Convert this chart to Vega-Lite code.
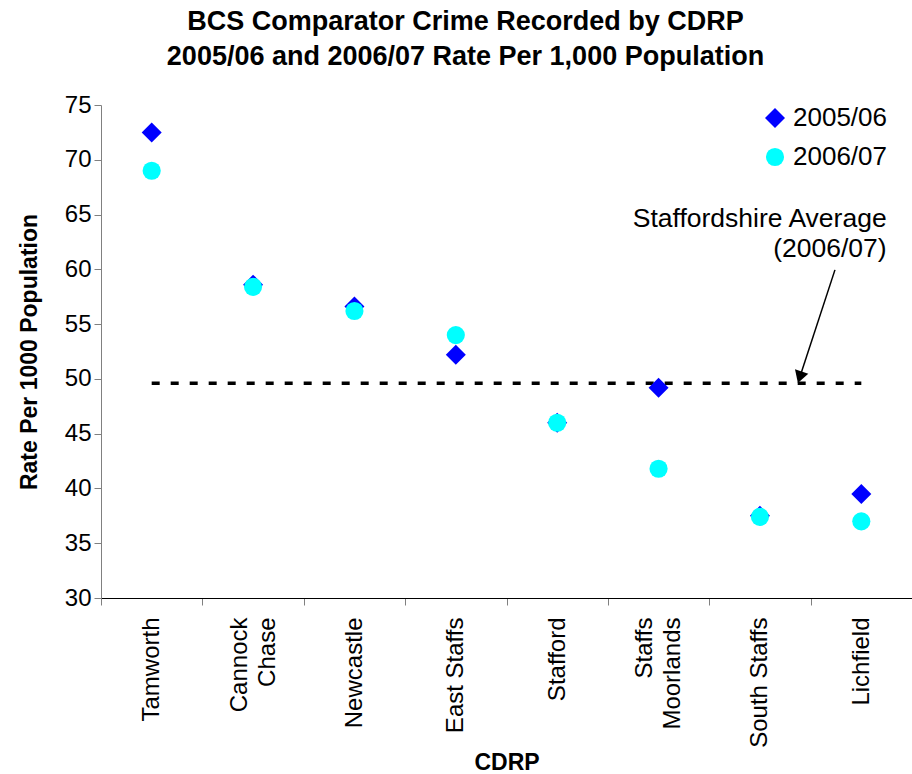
{
  "$schema": "https://vega.github.io/schema/vega-lite/v6.json",
  "width": 811,
  "height": 493,
  "autosize": {"type": "none"},
  "padding": {"left": 101, "top": 105, "right": 0, "bottom": 176},
  "background": "white",
  "title": {
    "text": ["BCS Comparator Crime Recorded by CDRP", "2005/06 and 2006/07 Rate Per 1,000 Population"],
    "font": "Liberation Sans",
    "fontSize": 27,
    "fontWeight": "bold",
    "color": "black",
    "anchor": "middle",
    "frame": "group",
    "dx": -41,
    "offset": 22,
    "lineHeight": 35
  },
  "datasets": {
    "rates": [
      {"cdrp": "Tamworth", "idx": 0, "year": "2005/06", "rate": 72.5},
      {"cdrp": "Cannock Chase", "idx": 1, "year": "2005/06", "rate": 58.6},
      {"cdrp": "Newcastle", "idx": 2, "year": "2005/06", "rate": 56.6},
      {"cdrp": "East Staffs", "idx": 3, "year": "2005/06", "rate": 52.2},
      {"cdrp": "Stafford", "idx": 4, "year": "2005/06", "rate": 46.0},
      {"cdrp": "Staffs Moorlands", "idx": 5, "year": "2005/06", "rate": 49.2},
      {"cdrp": "South Staffs", "idx": 6, "year": "2005/06", "rate": 37.5},
      {"cdrp": "Lichfield", "idx": 7, "year": "2005/06", "rate": 39.5},
      {"cdrp": "Tamworth", "idx": 0, "year": "2006/07", "rate": 69.0},
      {"cdrp": "Cannock Chase", "idx": 1, "year": "2006/07", "rate": 58.4},
      {"cdrp": "Newcastle", "idx": 2, "year": "2006/07", "rate": 56.2},
      {"cdrp": "East Staffs", "idx": 3, "year": "2006/07", "rate": 54.0},
      {"cdrp": "Stafford", "idx": 4, "year": "2006/07", "rate": 46.0},
      {"cdrp": "Staffs Moorlands", "idx": 5, "year": "2006/07", "rate": 41.8},
      {"cdrp": "South Staffs", "idx": 6, "year": "2006/07", "rate": 37.4},
      {"cdrp": "Lichfield", "idx": 7, "year": "2006/07", "rate": 37.0}
    ],
    "average": [{"idx": 0, "idx2": 7, "rate": 49.6}],
    "arrow": [{"idx": 6.74, "rate": 59.95, "idx2": 6.393, "rate2": 50.15}],
    "head": [{"idx": 6.393, "rate": 50.15}],
    "note": [{"idx": 7.25, "rate": 63.87, "label": "Staffordshire Average\n(2006/07)"}]
  },
  "encoding": {
    "x": {
      "field": "idx",
      "type": "quantitative",
      "scale": {"domain": [-0.5, 7.5], "nice": false, "zero": false},
      "axis": {
        "values": [-0.5, 0, 0.5, 1, 1.5, 2, 2.5, 3, 3.5, 4, 4.5, 5, 5.5, 6, 6.5, 7],
        "tickOpacity": {"condition": {"test": "datum.value % 1 === 0", "value": 0}, "value": 1},
        "labelExpr": "datum.value === 0 ? 'Tamworth' : datum.value === 1 ? ['Cannock', 'Chase'] : datum.value === 2 ? 'Newcastle' : datum.value === 3 ? 'East Staffs' : datum.value === 4 ? 'Stafford' : datum.value === 5 ? ['Staffs', 'Moorlands'] : datum.value === 6 ? 'South Staffs' : datum.value === 7 ? 'Lichfield' : ''",
        "labelOffset": {"condition": {"test": "datum.value === 1 || datum.value === 5", "value": -14}, "value": 0},
        "labelAngle": 270,
        "labelAlign": "right",
        "labelBaseline": "middle",
        "labelFont": "Liberation Sans",
        "labelFontSize": 24,
        "labelLineHeight": 28,
        "labelColor": "black",
        "labelPadding": 12,
        "labelOverlap": false,
        "labelFlush": false,
        "labelBound": false,
        "tickSize": 7,
        "tickColor": "#808080",
        "domainColor": "black",
        "domainWidth": 1,
        "grid": false,
        "title": "CDRP",
        "titleFont": "Liberation Sans",
        "titleFontSize": 23,
        "titleFontWeight": "bold",
        "titleColor": "black",
        "titlePadding": 4
      }
    },
    "y": {
      "field": "rate",
      "type": "quantitative",
      "scale": {"domain": [30, 75], "nice": false, "zero": false},
      "axis": {
        "values": [30, 35, 40, 45, 50, 55, 60, 65, 70, 75],
        "labelFont": "Liberation Sans",
        "labelFontSize": 24,
        "labelColor": "black",
        "labelPadding": 3,
        "tickSize": 7,
        "tickColor": "#808080",
        "domainColor": "#808080",
        "grid": false,
        "title": "Rate Per 1000 Population",
        "titleFont": "Liberation Sans",
        "titleFontSize": 23,
        "titleFontWeight": "bold",
        "titleColor": "black",
        "titlePadding": 23
      }
    }
  },
  "layer": [
    {
      "data": {"name": "average"},
      "mark": {"type": "rule", "color": "black", "strokeWidth": 3.5, "strokeDash": [8, 11]},
      "encoding": {"x2": {"field": "idx2"}}
    },
    {
      "data": {"name": "arrow"},
      "mark": {"type": "rule", "color": "black", "strokeWidth": 1.5},
      "encoding": {"x2": {"field": "idx2"}, "y2": {"field": "rate2"}}
    },
    {
      "data": {"name": "head"},
      "mark": {"type": "point", "shape": "triangle-down", "filled": true, "color": "black", "size": 196, "angle": 18, "opacity": 1}
    },
    {
      "data": {"name": "note"},
      "mark": {"type": "text", "align": "right", "baseline": "alphabetic", "font": "Liberation Sans", "fontSize": 26.5, "lineBreak": "\n", "lineHeight": 30, "color": "black"},
      "encoding": {"text": {"field": "label"}}
    },
    {
      "data": {"name": "rates"},
      "mark": {"type": "point", "filled": true, "opacity": 1, "strokeWidth": 0},
      "encoding": {
        "color": {
          "field": "year", "type": "nominal",
          "scale": {"domain": ["2005/06", "2006/07"], "range": ["#0000FF", "#00FFFF"]},
          "legend": {
            "title": null,
            "orient": "none",
            "legendX": 661,
            "legendY": 0,
            "labelFont": "Liberation Sans",
            "labelFontSize": 26,
            "labelColor": "black",
            "labelOffset": 5,
            "symbolSize": 400,
            "symbolStrokeWidth": 0,
            "rowPadding": 13
          }
        },
        "shape": {
          "field": "year", "type": "nominal",
          "scale": {"domain": ["2005/06", "2006/07"], "range": ["diamond", "circle"]}
        },
        "size": {
          "field": "year", "type": "ordinal",
          "scale": {"domain": ["2005/06", "2006/07"], "range": [400, 330]},
          "legend": null
        }
      }
    }
  ],
  "config": {"view": {"stroke": null}}
}
